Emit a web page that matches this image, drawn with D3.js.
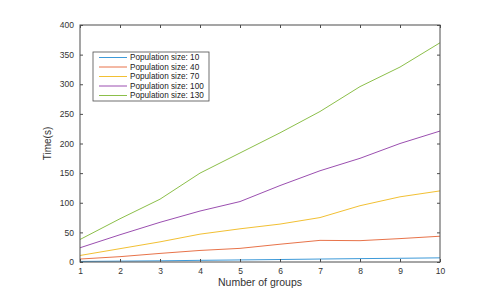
<!DOCTYPE html>
<html>
<head>
<meta charset="utf-8">
<script src="https://cdn.jsdelivr.net/npm/d3@7"></script>
<style>
  body { margin: 0; background: #fff; }
  text { font-family: "Liberation Sans", Arial, sans-serif; }
</style>
</head>
<body>
<div id="chart"></div>
<script>
// data
const groups = [1, 2, 3, 4, 5, 6, 7, 8, 9, 10];
const pop10 = [1, 1.5, 2, 2.8, 3.5, 4.2, 5, 5.7, 6.3, 7];
const pop40 = [5, 9, 14.5, 19.5, 23, 30, 36.5, 36, 39.5, 43.5];
const pop70 = [11, 22.5, 34, 47, 56, 64, 75, 95, 110, 120];
const pop100 = [24, 46, 67, 86, 102, 129, 154, 175, 200, 221];
const pop130 = [38, 73, 106, 150, 184, 218, 254, 296, 329, 370];
const seriesNames = ["Population size: 10", "Population size: 40", "Population size: 70", "Population size: 100", "Population size: 130"];
const seriesColors = ["#3d9ad9", "#e8734a", "#f2c033", "#9b4fb0", "#8cbf4a"];
const yTicks = [0, 50, 100, 150, 200, 250, 300, 350, 400];

const series = [pop10, pop40, pop70, pop100, pop130];

const width = 494, height = 298;
const margin = { left: 80, right: 54, top: 25, bottom: 36 };
const innerW = width - margin.left - margin.right;
const innerH = height - margin.top - margin.bottom;

const svg = d3.select("#chart").append("svg")
  .attr("width", width)
  .attr("height", height);

const g = svg.append("g")
  .attr("transform", `translate(${margin.left},${margin.top})`);

const x = d3.scaleLinear().domain([1, 10]).range([0, innerW]);
const y = d3.scaleLinear().domain([0, 400]).range([innerH, 0]);

const axisColor = "#4d4d4d";
const tickLen = 3;

// lines
const line = d3.line()
  .x((d, i) => x(groups[i]))
  .y(d => y(d));

series.forEach((s, k) => {
  g.append("path")
    .datum(s)
    .attr("fill", "none")
    .attr("stroke", seriesColors[k])
    .attr("stroke-width", 1)
    .attr("d", line);
});

// axes (MATLAB-style inward ticks, box on)
const styleAxis = sel => {
  sel.select(".domain").remove();
  sel.selectAll(".tick line").attr("stroke", axisColor);
  sel.selectAll(".tick text").attr("fill", "#333").style("font-size", "8.5px");
};

g.append("g")
  .attr("transform", `translate(0,${innerH})`)
  .call(d3.axisBottom(x).tickValues(groups).tickSizeInner(-tickLen).tickSizeOuter(0).tickPadding(6))
  .call(styleAxis);

g.append("g")
  .call(d3.axisTop(x).tickValues(groups).tickSizeInner(-tickLen).tickSizeOuter(0).tickFormat(""))
  .call(styleAxis);

g.append("g")
  .call(d3.axisLeft(y).tickValues(yTicks).tickSizeInner(-tickLen).tickSizeOuter(0).tickPadding(6))
  .call(styleAxis);

g.append("g")
  .attr("transform", `translate(${innerW},0)`)
  .call(d3.axisRight(y).tickValues(yTicks).tickSizeInner(-tickLen).tickSizeOuter(0).tickFormat(""))
  .call(styleAxis);

g.append("rect")
  .attr("width", innerW)
  .attr("height", innerH)
  .attr("fill", "none")
  .attr("stroke", axisColor)
  .attr("stroke-width", 1);

// axis labels
g.append("text")
  .attr("x", innerW / 2)
  .attr("y", innerH + 24)
  .attr("text-anchor", "middle")
  .attr("fill", "#333")
  .style("font-size", "10.5px")
  .text("Number of groups");

g.append("text")
  .attr("transform", `translate(-29,${innerH / 2}) rotate(-90)`)
  .attr("text-anchor", "middle")
  .attr("fill", "#333")
  .style("font-size", "10px")
  .text("Time(s)");

// legend
const legend = svg.append("g")
  .attr("transform", "translate(93,52)");

legend.append("rect")
  .attr("width", 116)
  .attr("height", 49)
  .attr("fill", "#fff")
  .attr("stroke", axisColor)
  .attr("stroke-width", 0.8);

const rows = legend.selectAll("g.row")
  .data(seriesNames)
  .enter()
  .append("g")
  .attr("class", "row")
  .attr("transform", (d, i) => `translate(0,${5.5 + i * 9.5})`);

rows.append("line")
  .attr("x1", 6)
  .attr("x2", 34)
  .attr("stroke", (d, i) => seriesColors[i])
  .attr("stroke-width", 1);

rows.append("text")
  .attr("x", 37)
  .attr("dy", "0.35em")
  .attr("fill", "#222")
  .style("font-size", "8.2px")
  .text(d => d);
</script>
</body>
</html>
